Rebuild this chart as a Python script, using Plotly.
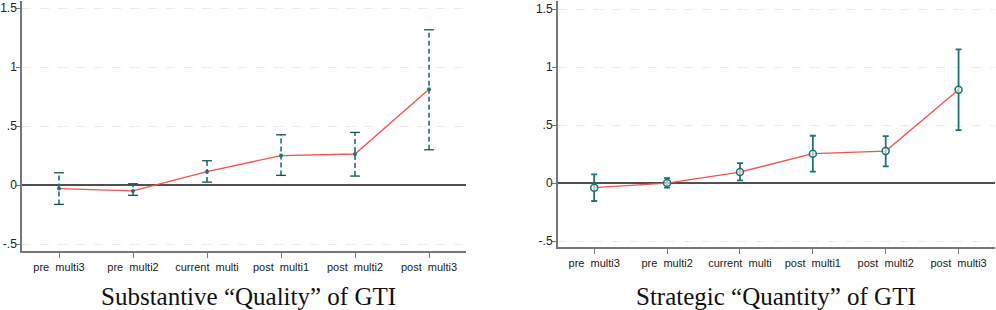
import plotly.graph_objects as go

categories = ["pre  multi3", "pre  multi2", "current  multi", "post  multi1", "post  multi2", "post  multi3"]

quality_coef = [-0.03, -0.05, 0.113, 0.25, 0.263, 0.811]
quality_lo = [-0.164, -0.087, 0.025, 0.082, 0.076, 0.299]
quality_hi = [0.104, 0.011, 0.206, 0.426, 0.446, 1.316]

quantity_coef = [-0.04, 0.0, 0.095, 0.253, 0.276, 0.805]
quantity_lo = [-0.155, -0.04, 0.023, 0.098, 0.144, 0.457]
quantity_hi = [0.075, 0.043, 0.172, 0.408, 0.405, 1.152]

ytick_vals = [-0.5, 0, 0.5, 1, 1.5]
ytick_text = ["-.5", "0", ".5", "1", "1.5"]

titles = ["Substantive \u201cQuality\u201d of GTI", "Strategic \u201cQuantity\u201d of GTI"]

TEAL = "#1d7373"
RED = "#ff4d4d"
labels = [c.replace(" ", "\u00a0") for c in categories]
xs = list(range(1, len(categories) + 1))

fig = go.Figure()

# ---- left panel: dashed CI bars ----
bx, by = [], []
for x, lo, hi in zip(xs, quality_lo, quality_hi):
    bx += [x, x, None]
    by += [lo, hi, None]
fig.add_trace(go.Scatter(x=bx, y=by, mode="lines", xaxis="x", yaxis="y",
                         line=dict(color=TEAL, width=1.6, dash="5px,3px"), showlegend=False, hoverinfo="skip"))
fig.add_trace(go.Scatter(x=xs + xs, y=quality_lo + quality_hi, mode="markers", xaxis="x", yaxis="y",
                         marker=dict(symbol="line-ew", size=7, line=dict(color="#1a4f4f", width=1.3)),
                         showlegend=False, hoverinfo="skip"))
fig.add_trace(go.Scatter(x=xs, y=quality_coef, mode="lines", xaxis="x", yaxis="y",
                         line=dict(color=RED, width=1.3), showlegend=False))
fig.add_trace(go.Scatter(x=xs, y=quality_coef, mode="markers", xaxis="x", yaxis="y",
                         marker=dict(color=TEAL, size=4), showlegend=False))

# ---- right panel: solid CI bars ----
fig.add_trace(go.Scatter(x=xs, y=quantity_coef, mode="markers", xaxis="x2", yaxis="y2",
                         marker=dict(size=0.1, color="rgba(0,0,0,0)"),
                         error_y=dict(type="data", symmetric=False,
                                      array=[h - c for h, c in zip(quantity_hi, quantity_coef)],
                                      arrayminus=[c - l for l, c in zip(quantity_lo, quantity_coef)],
                                      color=TEAL, thickness=1.8, width=3),
                         showlegend=False, hoverinfo="skip"))
fig.add_trace(go.Scatter(x=xs, y=quantity_coef, mode="lines", xaxis="x2", yaxis="y2",
                         line=dict(color=RED, width=1.3), showlegend=False))
fig.add_trace(go.Scatter(x=xs, y=quantity_coef, mode="markers", xaxis="x2", yaxis="y2",
                         marker=dict(color="rgba(255,255,255,0.6)", size=7, symbol="circle",
                                     line=dict(color=TEAL, width=1.5)), showlegend=False))

axis_common_x = dict(tickmode="array", tickvals=xs, ticktext=labels, range=[0.5, 6.5],
                     showline=True, linecolor="#777", linewidth=1.5, ticks="outside", ticklen=5,
                     tickcolor="#777", tickwidth=1, showgrid=False, zeroline=False, automargin=False,
                     tickfont=dict(family="Liberation Sans, Arial", size=11, color="#222"))
axis_common_y = dict(tickmode="array", tickvals=ytick_vals, ticktext=ytick_text,
                     showline=True, linecolor="#777", linewidth=1.5, ticks="outside", ticklen=4,
                     tickcolor="#777", tickwidth=1, showgrid=True, gridcolor="#ebebeb",
                     griddash="dash", gridwidth=1, zeroline=True, zerolinecolor="#505050",
                     zerolinewidth=1.5, automargin=False, ticklabelstandoff=-3,
                     tickfont=dict(family="Liberation Sans, Arial", size=12, color="#222"))

fig.update_layout(
    width=996, height=310, margin=dict(l=0, r=0, t=0, b=0, autoexpand=False),
    paper_bgcolor="white", plot_bgcolor="white",
    xaxis=dict(domain=[0.0221, 0.4679], anchor="y", **axis_common_x),
    yaxis=dict(domain=[0.1903, 0.9968], anchor="x", range=[-0.559, 1.56], **axis_common_y),
    xaxis2=dict(domain=[0.56, 0.999], anchor="y2", **axis_common_x),
    yaxis2=dict(domain=[0.2023, 0.9968], anchor="x2", range=[-0.554, 1.57], **axis_common_y),
    annotations=[
        dict(text=titles[0], x=0.249, y=0.042, xref="paper", yref="paper", showarrow=False,
             xanchor="center", yanchor="middle",
             font=dict(family="Liberation Serif, Times New Roman", size=25, color="#111")),
        dict(text=titles[1], x=0.779, y=0.042, xref="paper", yref="paper", showarrow=False,
             xanchor="center", yanchor="middle",
             font=dict(family="Liberation Serif, Times New Roman", size=25, color="#111")),
    ],
)

fig.write_html("out.html", config={"displayModeBar": False},
               post_script="document.body.style.margin='0';document.body.style.overflow='hidden';")
